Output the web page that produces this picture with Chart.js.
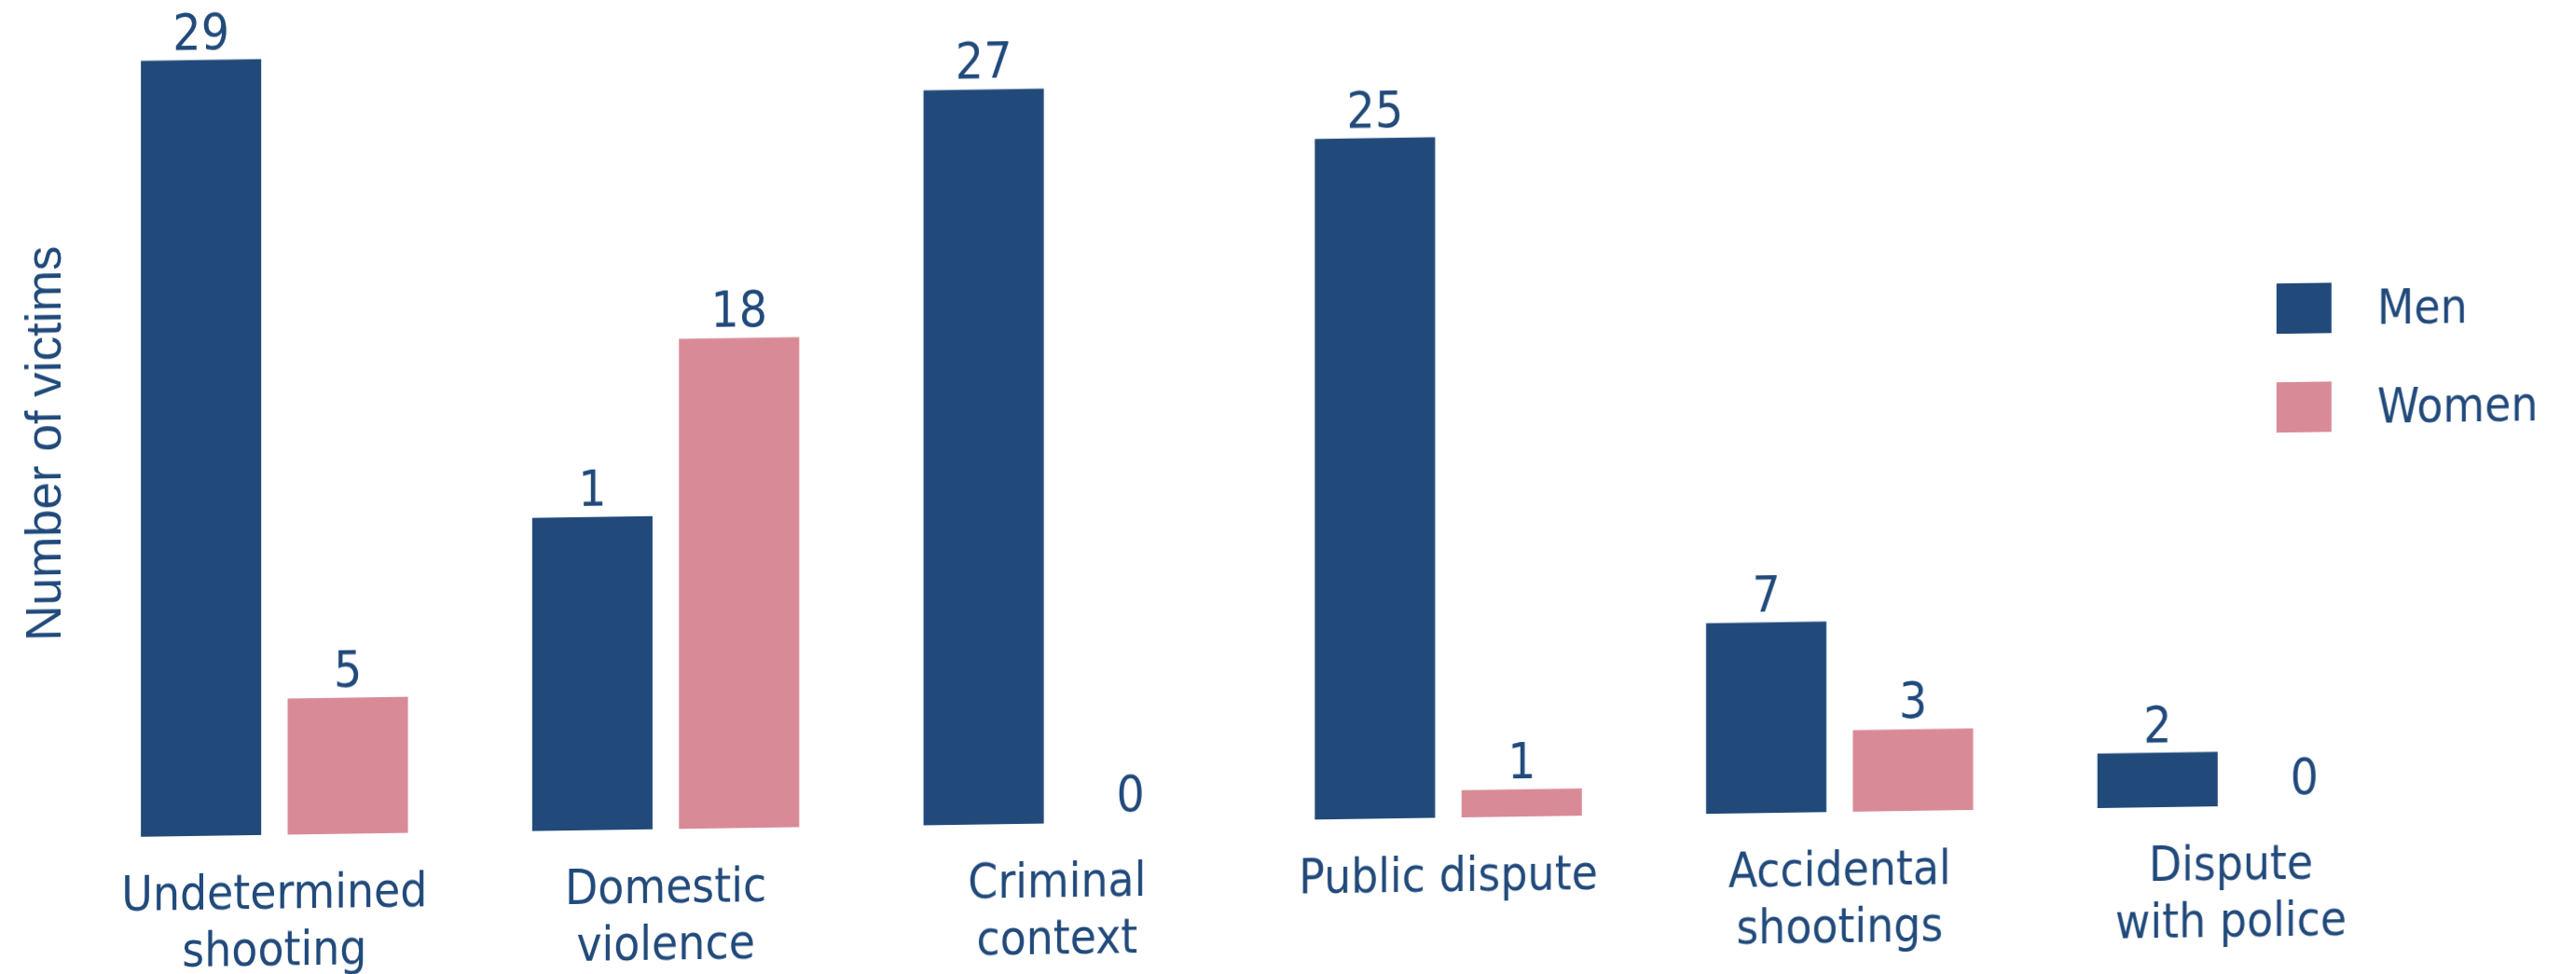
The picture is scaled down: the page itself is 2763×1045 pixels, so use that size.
<!DOCTYPE html>
<html>
<head>
<meta charset="utf-8">
<script src="https://cdn.jsdelivr.net/npm/chart.js@4.4.1/dist/chart.umd.min.js"></script>
<style>
html, body { margin: 0; padding: 0; background: #fff; overflow: hidden; }
/* the source picture is slightly sheared: right side sits higher */
#chart { display: block; transform: skewY(-0.84deg); transform-origin: 0 0; }
</style>
</head>
<body>
<canvas id="chart" width="2763" height="1100"></canvas>
<script>
var categories = [
    ['Undetermined', 'shooting'],
    ['Domestic', 'violence'],
    ['Criminal', 'context'],
    'Public dispute',
    ['Accidental', 'shootings'],
    ['Dispute', 'with police']
];
var seriesNames = ['Men', 'Women'];

// numbers printed above the bars
var menPrinted = [29, 1, 27, 25, 7, 2];
var womenPrinted = [5, 18, 0, 1, 3, 0];

// bar lengths as drawn (the "1" for domestic violence sits on a bar ~11.5 high)
var menBars = [28.5, 11.5, 27, 25, 7, 2];
var womenBars = [5, 18, 0, 1, 3, 0];

var BLUE = '#214a7b';
var PINK = '#d88b97';
var LABEL_FONT = '"DejaVu Sans Condensed", "DejaVu Sans", sans-serif';

var valueLabels = {
    id: 'valueLabels',
    afterDatasetsDraw: function (chart) {
        var ctx = chart.ctx;
        ctx.save();
        ctx.fillStyle = BLUE;
        ctx.font = '53px ' + LABEL_FONT;
        ctx.textAlign = 'center';
        ctx.textBaseline = 'alphabetic';
        chart.data.datasets.forEach(function (ds, i) {
            chart.getDatasetMeta(i).data.forEach(function (bar, j) {
                ctx.fillText(String(ds.printed[j]), bar.x, bar.y - 12);
            });
        });
        ctx.restore();
    }
};

var sideLegend = {
    id: 'sideLegend',
    afterDraw: function (chart) {
        var ctx = chart.ctx;
        ctx.save();
        ctx.font = '51px ' + LABEL_FONT;
        ctx.textBaseline = 'alphabetic';
        ctx.textAlign = 'left';
        chart.data.datasets.forEach(function (ds, i) {
            var top = 340 + i * 106;
            ctx.fillStyle = ds.backgroundColor;
            ctx.fillRect(2442, top, 59, 54);
            ctx.fillStyle = BLUE;
            ctx.fillText(ds.label, 2550, top + 45);
        });
        ctx.restore();
    }
};

var ctx = document.getElementById('chart').getContext('2d');
var chart = new Chart(ctx, {
    type: 'bar',
    data: {
        labels: categories,
        datasets: [{
            label: seriesNames[0],
            data: menBars,
            printed: menPrinted,
            backgroundColor: BLUE,
            barPercentage: 0.82,
            categoryPercentage: 0.75
        }, {
            label: seriesNames[1],
            data: womenBars,
            printed: womenPrinted,
            backgroundColor: PINK,
            barPercentage: 0.82,
            categoryPercentage: 0.75
        }]
    },
    options: {
        responsive: false,
        animation: false,
        layout: { padding: { left: 14, right: 160, top: 53, bottom: 0 } },
        plugins: {
            legend: { display: false },
            tooltip: { enabled: false }
        },
        scales: {
            x: {
                grid: { display: false },
                border: { display: false },
                ticks: {
                    color: BLUE,
                    font: { family: LABEL_FONT, size: 51, lineHeight: 1.18 },
                    padding: 28,
                    maxRotation: 0,
                    autoSkip: false
                },
                // canvas is taller than the page so the sheared bottom edge stays covered
                afterFit: function (scale) { scale.height = 200; }
            },
            y: {
                min: 0,
                max: 29,
                grid: { display: false },
                border: { display: false },
                ticks: { display: false },
                title: {
                    display: true,
                    text: 'Number of victims',
                    color: BLUE,
                    font: { family: '"Liberation Sans", Arial, sans-serif', size: 53, lineHeight: 1 },
                    padding: { top: 9.5, bottom: 0 }
                }
            }
        }
    },
    plugins: [valueLabels, sideLegend]
});
</script>
</body>
</html>
